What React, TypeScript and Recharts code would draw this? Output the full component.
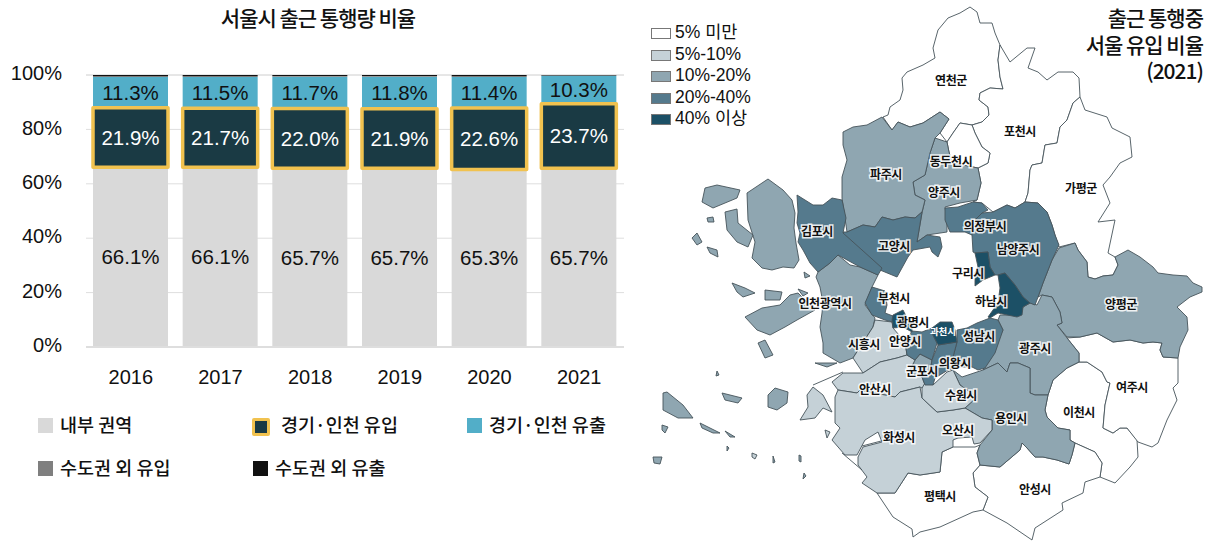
import { Bar, BarChart, CartesianGrid, LabelList, Scatter, ScatterChart, XAxis, YAxis } from "recharts";

type Pt = [number, number];

// left chart
const years = ["2016", "2017", "2018", "2019", "2020", "2021"];
const internalShare = [66.1, 66.1, 65.7, 65.7, 65.3, 65.7];
const inflowShare = [21.9, 21.7, 22.0, 21.9, 22.6, 23.7];
const outflowShare = [11.3, 11.5, 11.7, 11.8, 11.4, 10.3];
const farInShare = [0.2, 0.2, 0.2, 0.2, 0.2, 0.1];
const farOutShare = [0.5, 0.5, 0.4, 0.4, 0.5, 0.2];
const pctTicks = [0, 20, 40, 60, 80, 100];

const rows = years.map((year, i) => ({
  year,
  internal: internalShare[i],
  inflow: inflowShare[i],
  outflow: outflowShare[i],
  farIn: farInShare[i],
  farOut: farOutShare[i],
  inflowRange: [internalShare[i], internalShare[i] + inflowShare[i]],
}));

// map outlines, in the picture's own lon/lat stand-in units
const yeoncheon: Pt[] = [[948,18],[960,13],[970,7],[977,12],[980,23],[992,23],[995,33],[1000,45],[998,60],[1000,77],[1003,89],[990,88],[980,93],[979,100],[988,107],[989,115],[982,122],[972,125],[960,123],[953,133],[947,142],[940,133],[949,119],[940,112],[923,123],[910,127],[898,122],[892,130],[883,117],[888,115],[890,107],[900,100],[903,90],[902,78],[907,72],[923,65],[935,58],[933,48],[938,30]];
const pocheon: Pt[] = [[1000,45],[1010,62],[1027,48],[1035,48],[1028,68],[1038,72],[1047,80],[1058,72],[1073,72],[1079,78],[1080,97],[1073,103],[1067,120],[1060,127],[1057,143],[1045,145],[1042,163],[1032,165],[1030,170],[1028,193],[1025,202],[1015,208],[1007,205],[993,212],[982,203],[973,202],[977,200],[981,183],[978,168],[988,163],[990,153],[982,147],[975,133],[972,125],[982,122],[989,115],[988,107],[979,100],[980,93],[990,88],[1003,89],[1000,77],[998,60]];
const gapyeong: Pt[] = [[1080,97],[1085,110],[1107,117],[1112,128],[1130,137],[1132,157],[1120,163],[1110,177],[1103,185],[1110,203],[1098,222],[1115,220],[1108,253],[1115,257],[1118,265],[1113,275],[1103,276],[1095,279],[1088,277],[1087,262],[1078,250],[1075,243],[1059,247],[1055,235],[1052,225],[1047,212],[1038,203],[1025,202],[1028,193],[1030,170],[1032,165],[1042,163],[1045,145],[1057,143],[1060,127],[1067,120],[1073,103]];
const dongducheon: Pt[] = [[960,123],[972,125],[975,133],[982,147],[990,153],[988,163],[978,168],[952,163],[949,152],[947,142],[953,133]];
const yangju: Pt[] = [[935,138],[947,142],[949,152],[952,163],[978,168],[981,183],[977,200],[960,203],[945,207],[947,222],[947,232],[927,235],[917,242],[922,213],[925,200],[915,195],[913,182],[925,175],[930,153]];
const paju: Pt[] = [[843,132],[853,127],[867,125],[882,117],[892,130],[898,122],[910,127],[923,123],[940,112],[949,119],[940,133],[935,138],[930,153],[925,175],[913,182],[915,195],[925,200],[922,212],[915,218],[905,217],[893,220],[882,217],[875,227],[863,225],[847,232],[842,198],[842,177],[847,160],[843,145]];
const goyang: Pt[] = [[843,232],[847,232],[863,225],[875,227],[882,217],[893,220],[905,217],[915,218],[922,212],[917,242],[927,235],[940,237],[942,247],[938,257],[932,252],[930,247],[913,250],[908,257],[897,277],[880,270],[863,257],[843,238]];
const gimpo: Pt[] = [[797,195],[813,205],[823,205],[832,198],[842,200],[846,218],[843,233],[862,250],[882,268],[878,275],[860,267],[838,255],[830,263],[818,272],[810,263],[803,250],[798,242],[800,233],[797,223],[798,212]];
const ganghwa: Pt[] = [[747,193],[768,179],[783,190],[792,200],[795,213],[794,228],[796,243],[799,260],[794,268],[783,267],[772,270],[762,268],[752,258],[755,242],[748,220]];
const incheon: Pt[] = [[838,255],[850,265],[860,267],[878,275],[872,287],[865,305],[875,318],[873,327],[853,358],[840,363],[823,353],[823,343],[820,327],[822,313],[823,303],[820,287],[816,277],[818,272],[830,263]];
const yeongjong: Pt[] = [[790,295],[798,293],[815,310],[797,320],[785,327],[770,335],[757,330],[745,317],[762,308],[780,305]];
const bucheon: Pt[] = [[872,287],[885,291],[887,305],[885,313],[893,316],[893,322],[885,320],[872,315],[865,303]];
const gwangmyeong: Pt[] = [[893,315],[903,310],[906,316],[912,322],[912,332],[903,327],[893,328],[892,320]];
const anyang: Pt[] = [[905,342],[912,331],[922,332],[932,328],[933,335],[937,343],[932,360],[920,354],[915,360],[907,355]];
const gwacheon: Pt[] = [[932,328],[940,322],[952,322],[955,330],[957,342],[938,345],[933,335]];
const seongnam: Pt[] = [[957,342],[957,330],[967,328],[977,323],[990,318],[998,320],[1003,330],[995,353],[985,368],[978,370],[972,367],[957,367],[953,357]];
const uiwang: Pt[] = [[938,345],[957,342],[953,357],[957,368],[948,370],[935,378],[933,385],[925,385],[922,377],[930,372],[932,360]];
const gunpo: Pt[] = [[915,360],[920,354],[932,360],[930,372],[922,377],[915,375],[910,370]];
const siheungSouth: Pt[] = [[875,320],[892,322],[893,328],[905,342],[907,355],[897,358],[880,362],[863,373],[853,358],[873,327]];
const ansan: Pt[] = [[843,373],[863,373],[880,362],[897,358],[907,355],[915,360],[910,370],[915,375],[922,377],[925,385],[922,388],[920,387],[900,392],[895,397],[860,390],[857,393],[838,390],[832,382]];
const hwaseong: Pt[] = [[838,390],[857,393],[860,390],[895,397],[900,392],[920,387],[922,398],[937,412],[953,410],[965,408],[982,418],[992,420],[992,430],[980,443],[974,444],[972,437],[958,438],[953,440],[953,447],[942,452],[940,472],[920,475],[908,473],[895,493],[877,493],[862,483],[867,477],[858,465],[858,457],[863,447],[882,442],[878,432],[865,440],[857,455],[845,455],[832,440],[840,428],[835,423],[835,397]];
const suwon: Pt[] = [[922,398],[922,388],[928,378],[933,385],[947,372],[953,370],[960,385],[977,397],[965,408],[953,410],[937,412]];
const yongin: Pt[] = [[953,370],[962,377],[983,370],[998,363],[1007,372],[1010,363],[1018,363],[1030,368],[1030,393],[1035,395],[1048,395],[1045,410],[1047,417],[1058,428],[1070,430],[1070,440],[1075,443],[1072,455],[1069,464],[1057,460],[1043,457],[1035,457],[1027,448],[1022,443],[1020,450],[1000,467],[980,465],[977,453],[980,445],[992,430],[992,420],[982,418],[965,408],[977,397],[960,385]];
const gwangju: Pt[] = [[1000,315],[1020,315],[1023,307],[1030,303],[1037,305],[1042,295],[1052,297],[1060,312],[1062,323],[1057,325],[1067,338],[1079,353],[1079,362],[1067,368],[1053,380],[1048,395],[1035,395],[1030,393],[1030,368],[1018,363],[1010,363],[1007,372],[998,363],[983,370],[987,360],[995,345],[1003,330],[998,320]];
const hanam: Pt[] = [[998,275],[1005,273],[1015,285],[1023,297],[1030,303],[1023,307],[1022,315],[1017,317],[998,313],[990,318],[988,317],[998,303],[1000,288]];
const guri: Pt[] = [[975,253],[988,252],[990,267],[995,275],[983,280],[975,286],[975,273],[978,267]];
const uijeongbu: Pt[] = [[945,208],[958,207],[973,202],[982,203],[988,210],[982,213],[973,222],[972,235],[965,232],[950,232],[945,220]];
const namyangju: Pt[] = [[982,213],[993,212],[1007,205],[1015,208],[1025,202],[1038,203],[1047,212],[1052,225],[1055,235],[1059,245],[1052,260],[1043,283],[1038,297],[1035,305],[1030,303],[1023,297],[1015,285],[1005,273],[998,275],[995,275],[990,267],[988,252],[975,253],[973,252],[972,235],[973,222]];
const yangpyeong: Pt[] = [[1038,297],[1043,283],[1052,260],[1059,248],[1075,243],[1078,250],[1087,262],[1088,277],[1095,279],[1103,276],[1113,275],[1118,265],[1115,257],[1128,250],[1140,257],[1153,267],[1158,273],[1173,275],[1187,276],[1193,283],[1202,287],[1202,292],[1190,297],[1177,307],[1187,317],[1188,330],[1180,347],[1178,358],[1163,357],[1160,350],[1162,343],[1153,342],[1143,343],[1130,340],[1113,342],[1097,333],[1080,337],[1067,337],[1057,325],[1062,323],[1060,312],[1052,297],[1042,295]];
const icheon: Pt[] = [[1048,395],[1053,380],[1067,368],[1079,362],[1087,362],[1102,372],[1107,382],[1110,383],[1105,405],[1103,428],[1113,433],[1120,428],[1127,428],[1137,440],[1138,457],[1130,467],[1115,483],[1100,477],[1102,463],[1095,452],[1075,443],[1070,440],[1070,430],[1058,428],[1047,417],[1045,410]];
const yeoju: Pt[] = [[1079,362],[1079,353],[1067,338],[1080,337],[1097,333],[1113,342],[1130,340],[1143,343],[1153,342],[1162,343],[1160,350],[1163,357],[1178,358],[1178,383],[1173,388],[1177,400],[1167,420],[1158,443],[1152,447],[1138,442],[1127,428],[1120,428],[1113,433],[1103,428],[1105,405],[1110,383],[1107,382],[1102,372],[1087,362]];
const anseong: Pt[] = [[980,465],[1000,467],[1020,450],[1022,443],[1027,448],[1035,457],[1043,457],[1057,460],[1069,464],[1072,455],[1075,443],[1095,452],[1102,463],[1100,477],[1085,482],[1083,493],[1062,503],[1063,510],[1035,528],[1032,540],[1007,523],[983,510],[988,497],[975,487],[973,473]];
const pyeongtaek: Pt[] = [[877,493],[895,493],[908,473],[920,475],[940,472],[942,452],[953,447],[975,447],[980,445],[977,453],[980,465],[973,473],[975,487],[988,497],[983,510],[973,512],[940,527],[920,532],[913,537],[912,529],[893,517]];

const midIslands: Pt[][] = [
  [[705,188],[717,185],[740,190],[737,198],[713,208],[702,202]],
  [[725,212],[737,209],[738,223],[753,235],[748,247],[737,242],[727,230]],
  [[692,238],[697,233],[702,242],[697,245]],
  [[707,247],[717,250],[718,257],[710,253]],
  [[707,218],[713,217],[714,222],[708,222]],
  [[732,283],[745,288],[755,293],[743,297],[737,292]],
  [[765,290],[782,292],[780,300],[765,300]],
  [[758,343],[765,340],[773,355],[765,358]],
  [[663,393],[667,392],[683,405],[693,418],[678,418],[663,410]],
  [[768,395],[775,388],[788,392],[787,403],[777,410],[768,407]],
  [[722,393],[742,398],[738,403],[725,400]],
  [[700,423],[720,433],[713,433],[702,428]],
  [[725,431],[735,437],[730,437]],
  [[662,425],[668,427],[665,433],[662,430]],
  [[653,457],[662,457],[660,464],[654,463]],
  [[815,363],[837,363],[827,367]],
  [[798,289],[808,293],[803,296]],
  [[804,272],[810,276],[805,278]],
  [[717,371],[719,375],[716,376]],
  [[773,456],[775,462],[773,463]],
  [[799,455],[801,456],[801,462],[799,461]],
  [[804,473],[806,476],[803,479]],
  [[727,446],[729,448],[727,451]],
];
const lightIslands: Pt[][] = [
  [[813,387],[823,395],[832,412],[823,408],[815,418],[800,420],[808,407],[807,395]],
  [[825,430],[830,432],[827,438]],
  [[752,453],[757,455],[755,459],[752,457]],
];
const dikes: Pt[][] = [
  [[843,372],[813,385]],
  [[842,453],[862,470]],
  [[885,440],[862,446]],
];

// 0 under 5%, 1 5-10, 2 10-20, 3 20-40, 4 40+
const regions: { outline: Pt[]; band: number }[] = [
  { outline: yeoncheon, band: 0 }, { outline: pocheon, band: 0 }, { outline: gapyeong, band: 0 },
  { outline: dongducheon, band: 0 }, { outline: icheon, band: 0 }, { outline: yeoju, band: 0 },
  { outline: anseong, band: 0 }, { outline: pyeongtaek, band: 0 },
  { outline: yangju, band: 2 }, { outline: paju, band: 2 }, { outline: ganghwa, band: 2 },
  { outline: incheon, band: 2 }, { outline: yeongjong, band: 2 }, { outline: yangpyeong, band: 2 },
  { outline: gwangju, band: 2 }, { outline: yongin, band: 2 }, { outline: gunpo, band: 2 },
  { outline: siheungSouth, band: 1 }, { outline: ansan, band: 1 }, { outline: hwaseong, band: 1 }, { outline: suwon, band: 1 },
  { outline: goyang, band: 3 }, { outline: gimpo, band: 3 }, { outline: bucheon, band: 3 }, { outline: anyang, band: 3 },
  { outline: seongnam, band: 3 }, { outline: uiwang, band: 3 }, { outline: uijeongbu, band: 3 }, { outline: namyangju, band: 3 },
  { outline: gwangmyeong, band: 4 }, { outline: gwacheon, band: 4 }, { outline: hanam, band: 4 }, { outline: guri, band: 4 },
  ...midIslands.map((outline) => ({ outline, band: 2 })),
  ...lightIslands.map((outline) => ({ outline, band: 1 })),
];

const cityNames = ["연천군","포천시","동두천시","파주시","양주시","가평군","김포시","고양시","의정부시","남양주시","구리시","하남시","인천광역시","부천시","양평군","광명시","안양시","성남시","시흥시","광주시","의왕시","군포시","안산시","수원시","여주시","이천시","용인시","오산시","화성시","평택시","안성시"];
const cityX = [951,1020,951,886,944,1081,817,894,985,1018,968,991,825,894,1121,913,905,979,864,1035,955,922,875,961,1132,1079,1011,958,899,940,1035];
const cityY = [79,130,160,173,191,187,230,245,225,248,272,300,302,297,303,321,340,335,343,347,362,370,388,394,386,411,417,429,436,495,488];
const cities = cityNames.map((name, i) => ({ name, x: cityX[i], y: cityY[i] }));

const bandColors = ["#ffffff", "#c5d1d7", "#8fa6b1", "#557a8d", "#1c5066"];
const bandLabels = ["5% 미만", "5%-10%", "10%-20%", "20%-40%", "40% 이상"];

const sans = '"Liberation Sans", "Noto Sans CJK KR", sans-serif';
const kr = '"Noto Sans CJK KR", sans-serif';
const gold = "#f1c24f";
const mapLine = "#46545a";

const legendItems = [
  { label: "내부 권역", color: "#d9d9d9", x: 38, y: 425, textX: 60 },
  { label: "경기·인천 유입", color: "#1a3a44", x: 252, y: 427, textX: 281, border: true },
  { label: "경기·인천 유출", color: "#52aec8", x: 467, y: 425, textX: 489 },
  { label: "수도권 외 유입", color: "#7f7f7f", x: 38, y: 468, textX: 60 },
  { label: "수도권 외 유출", color: "#111111", x: 253, y: 468, textX: 275 },
];

const titleLines = ["출근 통행중", "서울 유입 비율", "(2021)"];
const titleTops = [4, 31, 57];

const pct = (v: any) => `${Number(v).toFixed(1)}%`;
const tickPct = (v: any) => `${v}%`;
const asPoints = (o: Pt[]) => [...o, o[0]].map(([x, y]) => ({ x, y }));

function CityLabel(props: any) {
  const { cx, cy, payload } = props;
  return (
    <text
      x={cx}
      y={cy}
      textAnchor="middle"
      dominantBaseline="central"
      fontFamily={kr}
      fontSize={12}
      fontWeight={700}
      letterSpacing={-0.4}
      fill="#111"
      stroke="#fff"
      strokeWidth={3}
      strokeOpacity={0.85}
      style={{ paintOrder: "stroke" }}
    >
      {payload.name}
    </text>
  );
}

function GwacheonLabel(props: any) {
  const { cx, cy } = props;
  return (
    <text x={cx} y={cy} textAnchor="middle" dominantBaseline="central" fontFamily={kr} fontSize={9.5} fontWeight={700} fill="#fff">
      과천시
    </text>
  );
}

export default function App() {
  return (
    <div style={{ position: "absolute", left: 0, top: 0, width: 1219, height: 544, overflow: "hidden", background: "#fff" }}>
      <div style={{ position: "absolute", left: 120, width: 396, top: 2, textAlign: "center", fontFamily: kr, fontSize: 21, fontWeight: 500, letterSpacing: -1, color: "#111", whiteSpace: "nowrap" }}>
        서울시 출근 통행량 비율
      </div>

      <div style={{ position: "absolute", left: 0, top: 0 }}>
        <BarChart width={630} height={400} data={rows} margin={{ top: 75, right: 6, bottom: 0, left: 0 }}>
          <CartesianGrid vertical={false} stroke="#dedede" />
          <XAxis
            dataKey="year"
            height={53}
            tickLine={false}
            axisLine={{ stroke: "#dedede", strokeWidth: 2 }}
            tickMargin={17}
            tick={{ fontSize: 20, fill: "#111", fontFamily: sans }}
          />
          <XAxis xAxisId="overlay" dataKey="year" hide />
          <YAxis
            width={86}
            domain={[0, 100]}
            ticks={pctTicks}
            tickFormatter={tickPct}
            tickLine={false}
            axisLine={false}
            tickSize={0}
            tickMargin={24}
            dy={-2}
            tick={{ fontSize: 20, fill: "#111", fontFamily: sans }}
          />
          <Bar dataKey="internal" stackId="share" fill="#d9d9d9" barSize={75} isAnimationActive={false}>
            <LabelList dataKey="internal" position="center" formatter={pct} fontSize={20.5} fill="#111" fontFamily={sans} />
          </Bar>
          <Bar dataKey="inflow" stackId="share" fill="#1a3a44" barSize={75} isAnimationActive={false} />
          <Bar dataKey="outflow" stackId="share" fill="#52aec8" barSize={75} isAnimationActive={false}>
            <LabelList dataKey="outflow" position="center" formatter={pct} fontSize={20.5} fill="#111" fontFamily={sans} />
          </Bar>
          <Bar dataKey="farIn" stackId="share" fill="#7f7f7f" barSize={75} isAnimationActive={false} />
          <Bar dataKey="farOut" stackId="share" fill="#111111" barSize={75} isAnimationActive={false} />
          {/* same inflow segment again so the gold frame sits above its neighbours */}
          <Bar xAxisId="overlay" dataKey="inflowRange" fill="#1a3a44" stroke={gold} strokeWidth={3.5} strokeLinejoin="round" barSize={75} isAnimationActive={false}>
            <LabelList dataKey="inflow" position="center" formatter={pct} fontSize={20.5} fill="#fff" fontFamily={sans} />
          </Bar>
        </BarChart>
      </div>

      {legendItems.map((item) => (
        <div key={item.label}>
          <div
            style={{
              position: "absolute",
              left: item.x,
              top: item.y - (item.border ? 9 : 7),
              width: item.border ? 12 : 15,
              height: item.border ? 12 : 15,
              background: item.color,
              border: item.border ? `3px solid ${gold}` : "none",
              borderRadius: item.border ? 2 : 0,
            }}
          />
          <div style={{ position: "absolute", left: item.textX, top: (item.border ? 425 : item.y) - 14, lineHeight: "26px", fontFamily: kr, fontSize: 18.5, fontWeight: 500, color: "#111", whiteSpace: "nowrap" }}>
            {item.label}
          </div>
        </div>
      ))}

      <div style={{ position: "absolute", left: 640, top: 0 }}>
        <ScatterChart width={579} height={544} margin={{ top: 0, right: 0, bottom: 0, left: 0 }}>
          <XAxis type="number" dataKey="x" domain={[640, 1219]} hide />
          <YAxis type="number" dataKey="y" domain={[0, 544]} reversed hide />
          {regions.map((r, i) => (
            <Scatter
              key={i}
              data={asPoints(r.outline)}
              isAnimationActive={false}
              shape={() => null}
              line={{ fill: bandColors[r.band], stroke: mapLine, strokeWidth: 0.9 }}
            />
          ))}
          {dikes.map((d, i) => (
            <Scatter
              key={i}
              data={d.map(([x, y]) => ({ x, y }))}
              isAnimationActive={false}
              shape={() => null}
              line={{ stroke: mapLine, strokeWidth: 0.9 }}
            />
          ))}
          <Scatter data={cities} isAnimationActive={false} shape={<CityLabel />} />
          <Scatter data={[{ x: 943, y: 331 }]} isAnimationActive={false} shape={<GwacheonLabel />} />
        </ScatterChart>
      </div>

      {bandLabels.map((label, i) => (
        <div key={label}>
          <div style={{ position: "absolute", left: 651, top: 28 + i * 21.5, width: 18, height: 9, background: bandColors[i], border: "1px solid #777" }} />
          <div style={{ position: "absolute", left: 675, top: 22 + i * 21.5, lineHeight: "21px", fontFamily: sans, fontSize: 17.5, color: "#111", whiteSpace: "nowrap" }}>
            {label}
          </div>
        </div>
      ))}

      {titleLines.map((line, i) => (
        <div key={line} style={{ position: "absolute", right: 16, top: titleTops[i], textAlign: "right", lineHeight: "26px", fontFamily: kr, fontSize: 21, fontWeight: 500, letterSpacing: -1, color: "#111", whiteSpace: "nowrap" }}>
          {line}
        </div>
      ))}
    </div>
  );
}
